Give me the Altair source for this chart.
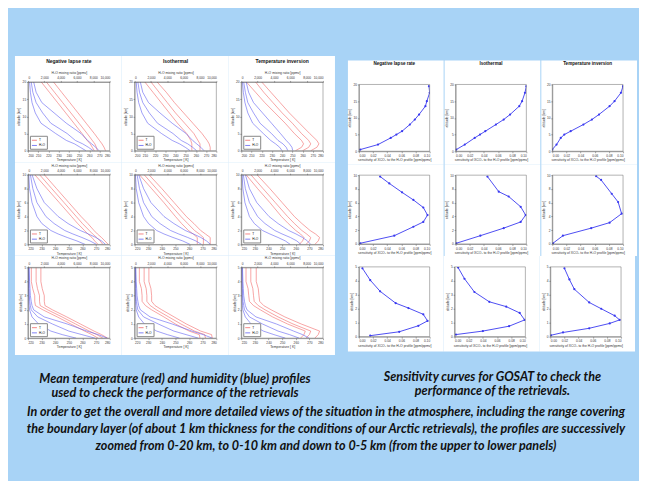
import altair as alt
import pandas as pd

# ------------------------------------------------------------------
# Scenario names (panel columns)
scenarios = ["Negative lapse rate", "Isothermal", "Temperature inversion"]

# ---------------- left figure: mean T (red) and H2O (blue) profiles ----
# altitude levels [km] per zoom row
z_r1 = [0, 1, 2, 3, 5, 8, 11, 14, 17, 20]
z_r2 = [0, 0.5, 1, 1.5, 2, 3, 4, 6, 8, 10]
z_r3 = [0, 0.25, 0.5, 1, 1.5, 2, 2.3, 2.6, 3, 3.5, 4, 5]

# temperature [K]: (low, mean, high)
T_r1_c1 = ([265, 263, 261, 258, 253, 245, 237, 229, 221, 213],
           [268, 267, 265.5, 263, 258, 250, 242, 234, 226, 218],
           [276, 274.5, 272.5, 270, 265, 257, 249, 241, 233, 225])
T_r1_c2 = ([256, 256, 256, 255, 251, 242, 234, 226, 218, 210],
           [264, 264, 264, 262, 258, 249, 240, 232, 224, 216],
           [274, 274, 273, 271, 266, 257, 248, 239, 231, 222])
T_r1_c3 = ([253, 259, 261, 259, 252, 243, 233, 223, 214, 205],
           [260, 266, 268, 266, 259, 250, 240, 231, 222, 214],
           [268, 274, 276, 274, 267, 257, 247, 238, 229, 220])
T_r2_c1 = ([271.5, 269, 267, 264, 261.5, 256.5, 252, 243, 234, 225],
           [275, 273, 270.5, 267.5, 265, 260, 255.5, 246.5, 237.5, 228.5],
           [279, 276.5, 274, 271, 268.5, 264, 259, 250, 241, 232])
T_r2_c2 = ([266, 266, 266, 263, 259.5, 254.5, 250, 241.5, 232.5, 223.5],
           [270.5, 270.5, 270.5, 267.5, 264, 259, 254, 245, 236, 227],
           [275.5, 275.5, 275.5, 272, 268.5, 263.5, 258, 249, 240, 230.5])
T_r2_c3 = ([262.5, 265, 266, 263.5, 260, 254.5, 249.5, 241, 232, 223.5],
           [267.5, 270, 271, 268, 264.5, 259, 254, 245, 236, 227],
           [274, 276.5, 277.5, 274.5, 270.5, 264.5, 259, 250, 241, 231.5])
T_r3_c1 = ([271.5, 267, 261.5, 251.5, 241.5, 231, 225.5, 225, 225, 223.5, 222.5, 222.5],
           [275, 270.5, 265, 255, 245, 234.5, 229, 228.5, 228.5, 227, 226, 226],
           [278.5, 274, 268.5, 258.5, 248.5, 238, 232.5, 232, 232, 230.5, 229.5, 229.5])
T_r3_c2 = ([268, 267.5, 260, 250, 241.5, 232.5, 228, 225.5, 225.5, 225, 223.5, 223.5],
           [272, 271.5, 264, 254, 245, 236, 231.5, 229, 229, 228.5, 227, 227],
           [277, 276.5, 268.5, 258, 249, 240, 235, 232.5, 232.5, 232, 230.5, 230.5])
T_r3_c3 = ([263.5, 266, 267, 254, 243, 234, 229, 226, 225.5, 225, 223.5, 223.5],
           [267.5, 270, 271, 258, 247, 237.5, 232.5, 229.5, 229, 228.5, 227, 227],
           [274, 276.5, 277.5, 264, 252, 242, 236.5, 233.5, 233, 232.5, 231, 231])

# H2O mixing ratio [ppmv]: (low, mean, high)
H_r1_c1 = ([7100, 6400, 5700, 4700, 3400, 1600, 900, 500, 300, 200],
           [8000, 7400, 6700, 5800, 4800, 2800, 1800, 1000, 600, 400],
           [8700, 8300, 7800, 7300, 6500, 4700, 3200, 1700, 1000, 700])
H_r1_c2 = ([6800, 6200, 5500, 4600, 3300, 1600, 900, 500, 300, 200],
           [7600, 7100, 6500, 5700, 4700, 2800, 1800, 1000, 600, 400],
           [8500, 8100, 7600, 7100, 6300, 4600, 3100, 1700, 1000, 700])
H_r1_c3 = ([5000, 4700, 4200, 3600, 2700, 1400, 800, 450, 250, 150],
           [5700, 5500, 5100, 4500, 3700, 2300, 1500, 800, 500, 300],
           [6300, 6200, 5900, 5500, 4800, 3700, 2600, 1500, 900, 600])
H_r2_c1 = ([7000, 6000, 4800, 3700, 2800, 1700, 1100, 500, 200, 100],
           [8400, 7600, 6600, 5500, 4500, 3200, 2200, 1100, 600, 300],
           [9500, 9000, 8300, 7400, 6400, 4900, 3700, 2000, 1100, 500])
H_r2_c2 = ([6800, 5900, 4700, 3600, 2700, 1700, 1100, 500, 200, 100],
           [8200, 7500, 6500, 5400, 4400, 3100, 2100, 1100, 600, 300],
           [9300, 8800, 8100, 7200, 6200, 4800, 3600, 2000, 1100, 500])
H_r2_c3 = ([6000, 5400, 4500, 3500, 2600, 1600, 1000, 450, 200, 100],
           [7300, 6800, 6000, 5000, 4100, 2900, 2000, 1000, 500, 250],
           [8500, 8100, 7500, 6700, 5800, 4500, 3400, 1900, 1000, 500])
H_r3_c1 = ([5900, 4200, 2800, 1300, 500, 200, 150, 120, 100, 70, 60, 50],
           [8200, 6600, 5000, 3000, 1200, 400, 300, 220, 170, 140, 120, 100],
           [9700, 8600, 7200, 4800, 2000, 700, 500, 400, 300, 250, 200, 150])
H_r3_c2 = ([5500, 4000, 2700, 1200, 500, 200, 150, 120, 100, 70, 60, 50],
           [7800, 6300, 4800, 2900, 1100, 400, 300, 220, 170, 140, 120, 100],
           [9500, 8400, 7000, 4600, 1900, 700, 500, 400, 300, 250, 200, 150])
H_r3_c3 = ([5400, 4000, 2700, 1200, 500, 200, 150, 120, 100, 70, 60, 50],
           [7100, 5900, 4500, 2600, 1000, 400, 300, 220, 170, 140, 120, 100],
           [8300, 7500, 6400, 4300, 1800, 700, 500, 400, 300, 250, 200, 150])

temp_ticks_r1 = [200, 210, 220, 230, 240, 250, 260, 270, 280]
temp_ticks_r23 = [220, 230, 240, 250, 260, 270, 280]
h2o_ticks = [0, 2000, 4000, 6000, 8000, 10000]
alt_ticks_r1 = [0, 5, 10, 15, 20]
alt_ticks_r2 = [0, 2, 4, 6, 8, 10]
alt_ticks_r3 = [0, 1, 2, 3, 4, 5]

# ---------------- right figure: GOSAT sensitivity curves -------------
sz_r1 = [0.5, 2, 4, 5, 6, 8, 9.5, 11, 13.5, 15, 17.5, 19.5]
s_r1_c1 = [0.002, 0.027, 0.045, 0.053, 0.061, 0.072, 0.079, 0.085, 0.094, 0.096, 0.1, 0.099]
s_r1_c2 = [0.001, 0.013, 0.027, 0.0345, 0.042, 0.057, 0.068, 0.077, 0.09, 0.094, 0.098, 0.1]
s_r1_c3 = [0.0, 0.006, 0.012, 0.017, 0.026, 0.044, 0.056, 0.066, 0.081, 0.088, 0.097, 0.1]
sz_r2_c1 = [0.1, 1.2, 2.5, 3.2, 4.2, 5.3, 6.4, 7.5, 8.8, 9.8]
s_r2_c1 = [0.002, 0.05, 0.077, 0.091, 0.097, 0.091, 0.077, 0.061, 0.043, 0.03]
sz_r2_c2 = [0.1, 1.2, 2.3, 3.2, 4.2, 5.4, 6.9, 7.6, 9.8]
s_r2_c2 = [0.001, 0.035, 0.068, 0.092, 0.099, 0.092, 0.075, 0.061, 0.045]
sz_r2_c3 = [0.1, 1.2, 2.3, 3.1, 4.4, 6.1, 7.3, 9.3, 9.85]
s_r2_c3 = [0.001, 0.015, 0.055, 0.081, 0.098, 0.093, 0.084, 0.069, 0.062]
sz_r3_c1 = [0.07, 0.35, 0.78, 1.13, 1.6, 2.05, 2.4, 3.25, 4.05, 4.9]
s_r3_c1 = [0.016, 0.057, 0.084, 0.097, 0.091, 0.07, 0.052, 0.03, 0.016, 0.005]
sz_r3_c2 = [0.15, 0.4, 0.75, 1.2, 1.7, 2.15, 2.5, 3.2, 4.15, 4.95]
s_r3_c2 = [0.002, 0.04, 0.077, 0.099, 0.092, 0.073, 0.049, 0.028, 0.014, 0.005]
sz_r3_c3 = [0.1, 0.3, 0.6, 0.95, 1.2, 1.5, 2.0, 2.45, 3.4, 4.1, 4.9]
s_r3_c3 = [0.001, 0.018, 0.055, 0.084, 0.098, 0.091, 0.072, 0.055, 0.034, 0.027, 0.02]
sens_ticks = [0, 0.02, 0.04, 0.06, 0.08, 0.1]

# captions
caption_left = ["Mean temperature (red) and humidity (blue) profiles",
                "used to check the performance of the retrievals"]
caption_right = ["Sensitivity curves for GOSAT to check the",
                 "performance of the retrievals."]
caption_bottom = [
    "In order to get the overall and more detailed views of the situation in the atmosphere, including the range covering",
    "the boundary layer (of about 1 km thickness for the conditions of our Arctic retrievals), the profiles are successively",
    "zoomed from 0-20 km, to 0-10 km and down to 0-5 km (from the upper to lower panels)",
]

# ------------------------------------------------------------------
RED = "#f26a6a"
BLUE = "#6262f2"
LINE_BLUE = "#3a3af0"
BG = "#a8d3f6"
SMALL_FONT = "Liberation Sans"
CAP_FONT = "Lato"

one = pd.DataFrame({"a": [0]})


def white_box(L, W, R, T, H, B):
    return alt.Chart(one).mark_rect(color="white").encode(
        x=alt.value(-L), x2=alt.value(W + R), y=alt.value(-T), y2=alt.value(H + B))


def border(W, H):
    return alt.Chart(one).mark_rect(filled=False, stroke="#666", strokeWidth=0.5).encode(
        x=alt.value(0), x2=alt.value(W), y=alt.value(0), y2=alt.value(H))


def panel_title(text, W, size):
    return alt.Chart(one).mark_text(fontSize=size, font=SMALL_FONT, fontWeight="bold",
                                    color="#111", baseline="middle", align="center").encode(
        x=alt.value(W / 2), y=alt.value(-21), text=alt.value(text))


def small_axis(**kw):
    base = dict(labelFontSize=3.2, titleFontSize=3.4, labelFont=SMALL_FONT, titleFont=SMALL_FONT,
                labelColor="#333", titleColor="#333", titleFontWeight="normal",
                tickSize=1.5, tickWidth=0.5, tickColor="#555", domainColor="#555",
                domainWidth=0.5, labelPadding=0.8, titlePadding=1.2, grid=False, zindex=2)
    base.update(kw)
    return alt.Axis(**base)


def left_panel(z, Tc, Hc, tdom, tticks, zmax, zticks, H, T, B, title=None):
    L, W, R = 13, 82, 12
    recT, recH = [], []
    for k in range(3):
        for zi, tv, hv in zip(z, Tc[k], Hc[k]):
            recT.append({"z": zi, "val": tv, "curve": k, "var": "T"})
            recH.append({"z": zi, "val": hv, "curve": k, "var": "H₂O"})
    dT, dH = pd.DataFrame(recT), pd.DataFrame(recH)
    cscale = alt.Scale(domain=["T", "H₂O"], range=[RED, BLUE])
    leg = alt.Legend(orient="bottom-left", title=None, labelFontSize=3.2, labelFont=SMALL_FONT,
                     symbolType="stroke", symbolStrokeWidth=0.8, symbolSize=25,
                     padding=1.5, rowPadding=0.2, strokeColor="#888", fillColor="white",
                     offset=2, labelOffset=1.5)
    yenc = alt.Y("z:Q", scale=alt.Scale(domain=[0, zmax], nice=False),
                 axis=small_axis(values=zticks, title="altitude [km]"))
    red = alt.Chart(dT).mark_line(strokeWidth=0.6, clip=True).encode(
        x=alt.X("val:Q", scale=alt.Scale(domain=tdom, nice=False, zero=False),
                axis=small_axis(orient="bottom", values=tticks, title="Temperature [ K]")),
        y=yenc,
        color=alt.Color("var:N", scale=cscale, legend=leg),
        detail="curve:N", order="z:Q")
    blue = alt.Chart(dH).mark_line(strokeWidth=0.6, clip=True).encode(
        x=alt.X("val:Q", scale=alt.Scale(domain=[0, 10000], nice=False),
                axis=small_axis(orient="top", values=h2o_ticks, title="H₂O mixing ratio [ppmv]")),
        y=yenc,
        color=alt.Color("var:N", scale=cscale, legend=leg),
        detail="curve:N", order="z:Q")
    layers = [white_box(L, W, R, T, H, B), red, blue, border(W, H)]
    if title:
        layers.append(panel_title(title, W, 5))
    return alt.layer(*layers).resolve_scale(x="independent").properties(width=W, height=H)


def right_panel(z, s, zmax, zticks, H, T, B, title=None):
    L, W, R = 11, 71, 14
    d = pd.DataFrame({"z": z, "s": s})
    line = alt.Chart(d).mark_line(color=LINE_BLUE, strokeWidth=0.9, clip=True,
                                  point=alt.OverlayMarkDef(color=LINE_BLUE, size=5, filled=True)).encode(
        x=alt.X("s:Q", scale=alt.Scale(domain=[0, 0.1], nice=False),
                axis=small_axis(values=sens_ticks, format=".2f",
                                title="sensitivity of XCO₂ to the H₂O profile [ppm/ppmv]")),
        y=alt.Y("z:Q", scale=alt.Scale(domain=[0, zmax], nice=False),
                axis=small_axis(values=zticks, title="altitude [km]")),
        order="z:Q")
    layers = [white_box(L, W, R, T, H, B), line, border(W, H)]
    if title:
        layers.append(panel_title(title, W, 4.6))
    return alt.layer(*layers).properties(width=W, height=H)


def row(*panels):
    return alt.hconcat(*panels, spacing=0).resolve_scale(color="independent").resolve_legend(color="independent")


left_rows = [
    row(left_panel(z_r1, T_r1_c1, H_r1_c1, [200, 280], temp_ticks_r1, 20, alt_ticks_r1, 69, 26, 12, scenarios[0]),
        left_panel(z_r1, T_r1_c2, H_r1_c2, [200, 280], temp_ticks_r1, 20, alt_ticks_r1, 69, 26, 12, scenarios[1]),
        left_panel(z_r1, T_r1_c3, H_r1_c3, [200, 280], temp_ticks_r1, 20, alt_ticks_r1, 69, 26, 12, scenarios[2])),
    row(left_panel(z_r2, T_r2_c1, H_r2_c1, [220, 280], temp_ticks_r23, 10, alt_ticks_r2, 70, 12, 11),
        left_panel(z_r2, T_r2_c2, H_r2_c2, [220, 280], temp_ticks_r23, 10, alt_ticks_r2, 70, 12, 11),
        left_panel(z_r2, T_r2_c3, H_r2_c3, [220, 280], temp_ticks_r23, 10, alt_ticks_r2, 70, 12, 11)),
    row(left_panel(z_r3, T_r3_c1, H_r3_c1, [220, 280], temp_ticks_r23, 5, alt_ticks_r3, 71, 12, 17),
        left_panel(z_r3, T_r3_c2, H_r3_c2, [220, 280], temp_ticks_r23, 5, alt_ticks_r3, 71, 12, 17),
        left_panel(z_r3, T_r3_c3, H_r3_c3, [220, 280], temp_ticks_r23, 5, alt_ticks_r3, 71, 12, 17)),
]

cap_style = dict(orient="bottom", anchor="middle", font=CAP_FONT, fontSize=12.6, fontStyle="italic",
                 fontWeight="bold", color="#111")

left_fig = alt.vconcat(*left_rows, spacing=0,
                       title=alt.TitleParams(caption_left, lineHeight=14.5, offset=18, **cap_style)
                       ).resolve_scale(color="independent").resolve_legend(color="independent")

right_rows = [
    alt.hconcat(right_panel(sz_r1, s_r1_c1, 20, alt_ticks_r1, 67, 24, 13, scenarios[0]),
                right_panel(sz_r1, s_r1_c2, 20, alt_ticks_r1, 67, 24, 13, scenarios[1]),
                right_panel(sz_r1, s_r1_c3, 20, alt_ticks_r1, 67, 24, 13, scenarios[2]), spacing=0),
    alt.hconcat(right_panel(sz_r2_c1, s_r2_c1, 10, alt_ticks_r2, 69, 11, 12),
                right_panel(sz_r2_c2, s_r2_c2, 10, alt_ticks_r2, 69, 11, 12),
                right_panel(sz_r2_c3, s_r2_c3, 10, alt_ticks_r2, 69, 11, 12), spacing=0),
    alt.hconcat(right_panel(sz_r3_c1, s_r3_c1, 5, alt_ticks_r3, 70, 11, 15),
                right_panel(sz_r3_c2, s_r3_c2, 5, alt_ticks_r3, 70, 11, 15),
                right_panel(sz_r3_c3, s_r3_c3, 5, alt_ticks_r3, 70, 11, 15), spacing=0),
]
right_fig = alt.vconcat(*right_rows, spacing=0,
                        title=alt.TitleParams(caption_right, lineHeight=14.5, offset=19, **cap_style))

chart = alt.hconcat(left_fig, right_fig, spacing=12, center=True,
                    title=alt.TitleParams(caption_bottom, lineHeight=17, offset=6, **cap_style)
                    ).resolve_scale(color="independent").resolve_legend(color="independent").properties(
    padding={"left": 7, "top": 47, "right": 2, "bottom": 27},
    background=BG,
).configure_view(stroke=None)

chart.save("out.html", embed_options={"renderer": "svg", "actions": False})
